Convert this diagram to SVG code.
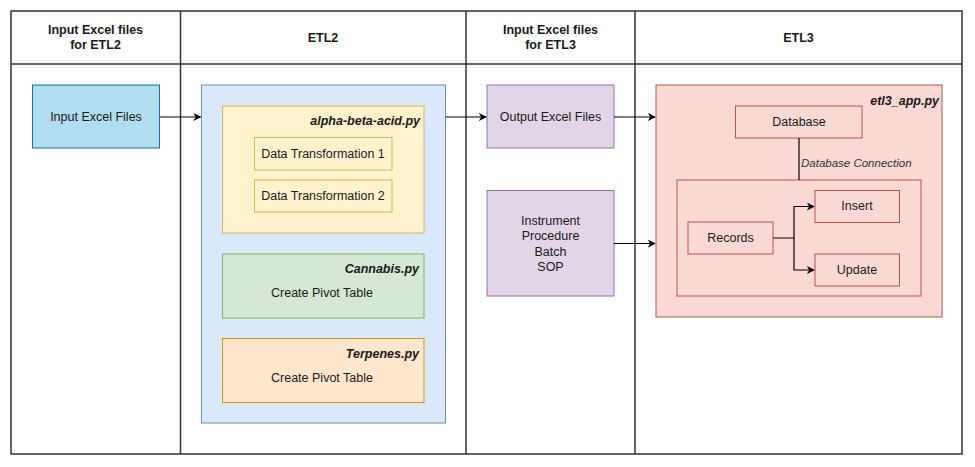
<svg xmlns="http://www.w3.org/2000/svg" width="975" height="467" viewBox="0 0 975 467">
<defs>
<marker id="arr" viewBox="0 0 10 10" refX="9" refY="5" markerWidth="8" markerHeight="8" markerUnits="userSpaceOnUse" orient="auto">
<path d="M0,0 L10,5 L0,10 L3,5 Z" fill="#000"/>
</marker>
<style>
text{font-family:"Liberation Sans",Arial,sans-serif;font-size:12.5px;fill:#1a1a1a;text-anchor:middle;dominant-baseline:central}
.hd{font-weight:bold}
.it{font-style:italic;font-weight:bold;text-anchor:end}
.frame{fill:none;stroke:#333;stroke-width:1.5}
.conn{fill:none;stroke:#000;stroke-width:1.2}
.blue1{fill:#b1ddf0;stroke:#10739e}
.blue2{fill:#dae8fc;stroke:#6c8ebf}
.yel{fill:#fff2cc;stroke:#d6b656}
.grn{fill:#d5e8d4;stroke:#82b366}
.org{fill:#ffe6cc;stroke:#d79b00}
.pur{fill:#e1d5e7;stroke:#9673a6}
.red{fill:#fad9d5;stroke:#b85450}
</style>
</defs>
<rect width="975" height="467" fill="#fff"/>
<g id="lanes">
<rect class="frame" x="11" y="11" width="951" height="443"/>
<line class="frame" x1="11" y1="64" x2="962" y2="64"/>
<line class="frame" x1="180.5" y1="11" x2="180.5" y2="454"/>
<line class="frame" x1="466" y1="11" x2="466" y2="454"/>
<line class="frame" x1="635" y1="11" x2="635" y2="454"/>
<text class="hd" x="95.5" y="30">Input Excel files</text>
<text class="hd" x="95.5" y="45">for ETL2</text>
<text class="hd" x="323" y="37.5">ETL2</text>
<text class="hd" x="550.5" y="30">Input Excel files</text>
<text class="hd" x="550.5" y="45">for ETL3</text>
<text class="hd" x="798.5" y="37.5">ETL3</text>
</g>
<g id="input-excel">
<rect class="blue1" x="32.5" y="85" width="127" height="63"/>
<text x="96" y="116.5">Input Excel Files</text>
</g>
<g id="etl2">
<rect class="blue2" x="201.5" y="85" width="244" height="338"/>
</g>
<g id="alpha-beta-acid">
<rect class="yel" x="222.5" y="106" width="201.5" height="127"/>
<text class="it" x="420" y="121">alpha-beta-acid.py</text>
</g>
<g id="dt1">
<rect class="yel" x="254.5" y="137.5" width="137.5" height="32.5"/>
<text x="323" y="154">Data Transformation 1</text>
</g>
<g id="dt2">
<rect class="yel" x="254.5" y="180" width="137.5" height="32"/>
<text x="323" y="196">Data Transformation 2</text>
</g>
<g id="cannabis">
<rect class="grn" x="222.5" y="254" width="201.5" height="64"/>
<text class="it" x="419" y="269">Cannabis.py</text>
<text x="322" y="293">Create Pivot Table</text>
</g>
<g id="terpenes">
<rect class="org" x="222.5" y="338.5" width="201.5" height="64"/>
<text class="it" x="419" y="354">Terpenes.py</text>
<text x="322" y="378">Create Pivot Table</text>
</g>
<g id="output-excel">
<rect class="pur" x="487" y="85" width="127" height="63"/>
<text x="550.5" y="116.5">Output Excel Files</text>
</g>
<g id="instrument">
<rect class="pur" x="487" y="190.5" width="127" height="105.5"/>
<text x="550.5" y="221">Instrument</text>
<text x="550.5" y="236">Procedure</text>
<text x="550.5" y="251.5">Batch</text>
<text x="550.5" y="266.5">SOP</text>
</g>
<g id="etl3-app">
<rect class="red" x="656" y="85" width="286" height="232"/>
<text class="it" x="939" y="101">etl3_app.py</text>
</g>
<g id="database">
<rect class="red" x="735.5" y="106" width="126.5" height="32"/>
<text x="799" y="121.5">Database</text>
</g>
<g id="records-group">
<rect class="red" x="677" y="180" width="244" height="116"/>
</g>
<g id="records">
<rect class="red" x="688" y="222" width="85" height="32"/>
<text x="730.5" y="238">Records</text>
</g>
<g id="insert">
<rect class="red" x="815" y="190.5" width="84.5" height="32"/>
<text x="857" y="206">Insert</text>
</g>
<g id="update">
<rect class="red" x="815" y="254" width="84.5" height="32"/>
<text x="857" y="269.5">Update</text>
</g>
<g id="connectors">
<path class="conn" d="M160,117 L200.5,117" marker-end="url(#arr)"/>
<path class="conn" d="M445.5,117 L486,117" marker-end="url(#arr)"/>
<path class="conn" d="M614,117 L655,117" marker-end="url(#arr)"/>
<path class="conn" d="M614,243.5 L655,243.5" marker-end="url(#arr)"/>
<path class="conn" d="M799,138 L799,180"/>
<text x="801" y="163" style="font-size:11.5px;font-style:italic;text-anchor:start;fill:#333">Database Connection</text>
<path class="conn" d="M773,238 L794,238 L794,206.5 L814,206.5" marker-end="url(#arr)"/>
<path class="conn" d="M794,238 L794,270 L814,270" marker-end="url(#arr)"/>
</g>
</svg>
